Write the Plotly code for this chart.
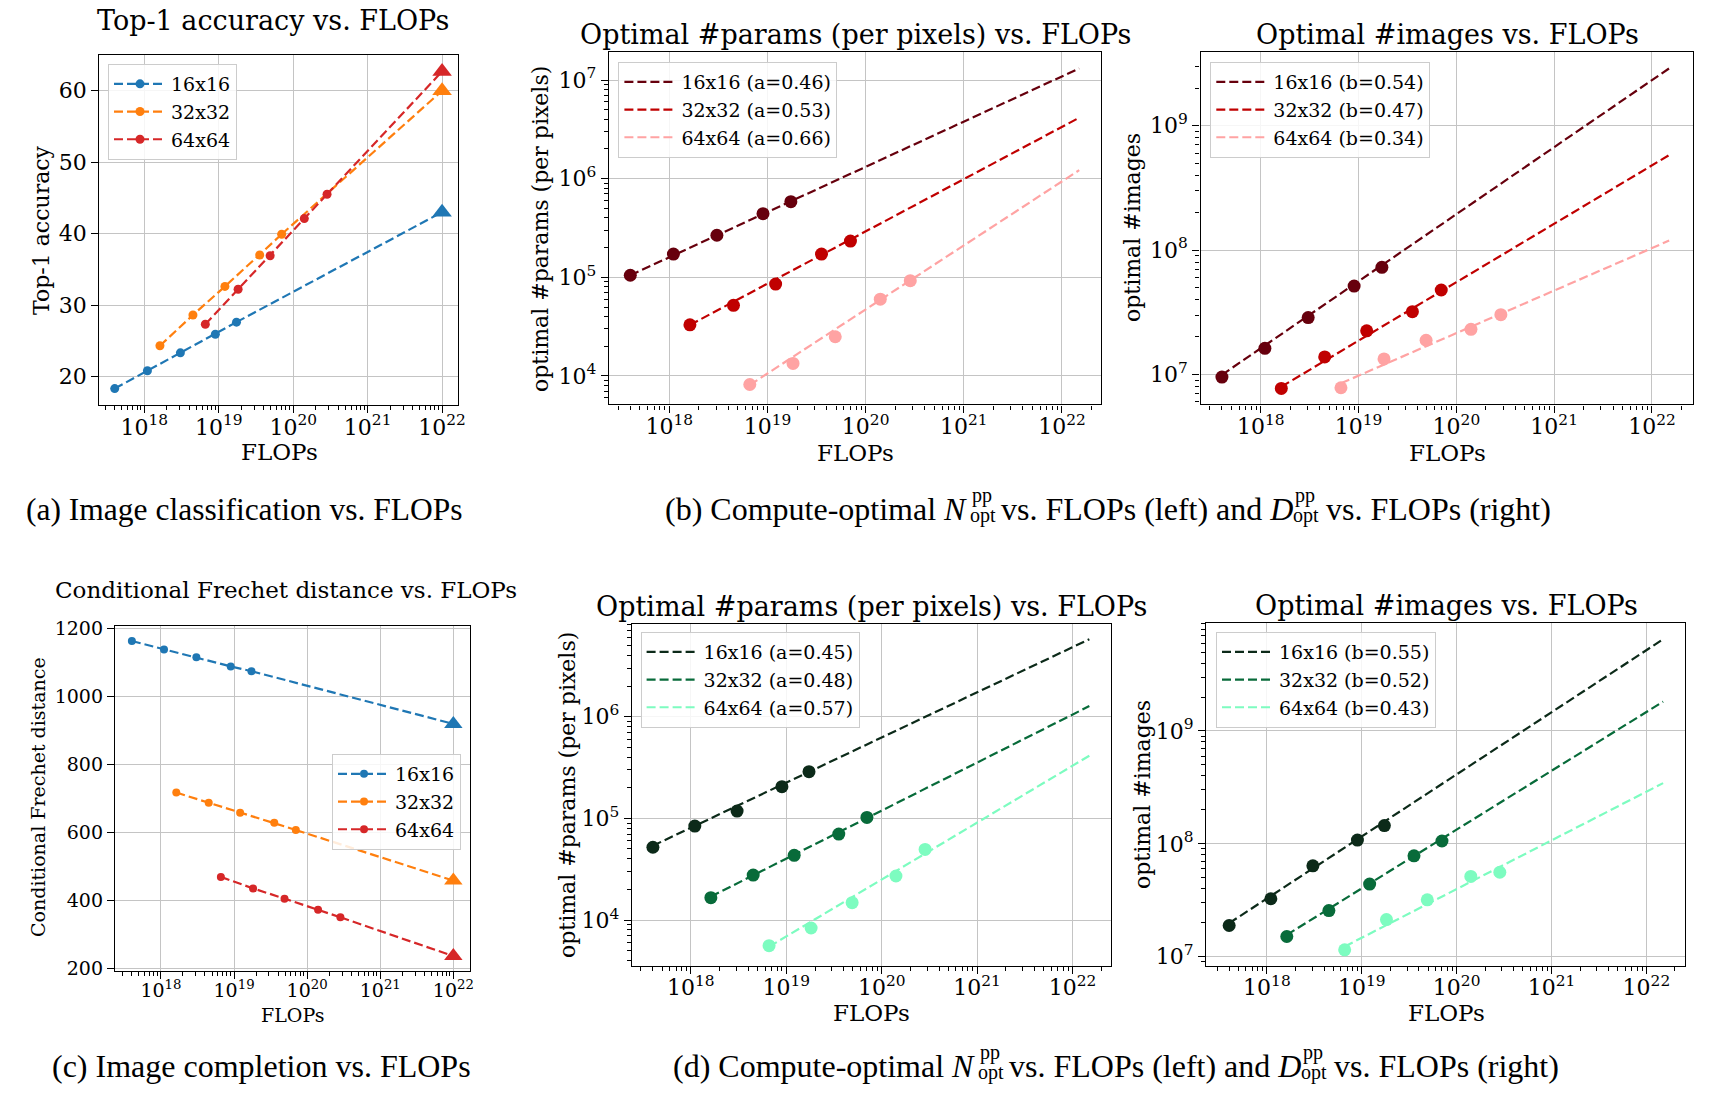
import plotly.graph_objects as go

W, H = 1730, 1106

# ---------------- data ----------------
resolutions = ["16x16", "32x32", "64x64"]
flops_16 = [4.0e17, 1.1e18, 3.05e18, 9.0e18, 1.73e19]
flops_32 = [1.62e18, 4.5e18, 1.21e19, 3.55e19, 7.0e19]
flops_64 = [6.6e18, 1.82e19, 4.9e19, 1.41e20, 2.85e20]
target_flops = 1e22          # triangles (extrapolated targets)
fit_end_flops = 1.5e22       # end of the fitted power-law lines

# (a) Top-1 accuracy
top1_16 = [18.3, 20.8, 23.3, 25.9, 27.6]
top1_32 = [24.3, 28.6, 32.6, 37.0, 39.9]
top1_64 = [27.3, 32.2, 36.9, 42.1, 45.5]
top1_target = [43.0, 60.0, 62.7]

# (b) classification: optimal params / images
cls_params_16 = [1.05e5, 1.72e5, 2.67e5, 4.42e5, 5.85e5]
cls_params_32 = [3.3e4, 5.2e4, 8.55e4, 1.72e5, 2.33e5]
cls_params_64 = [8.2e3, 1.34e4, 2.5e4, 6.0e4, 9.25e4]
cls_params_fit_16 = [1.05e5, 1.31e7]
cls_params_fit_32 = [3.29e4, 4.15e6]
cls_params_fit_64 = [8.1e3, 1.22e6]
cls_params_exp = ["0.46", "0.53", "0.66"]

cls_images_16 = [9.5e6, 1.62e7, 2.86e7, 5.13e7, 7.26e7]
cls_images_32 = [7.7e6, 1.38e7, 2.24e7, 3.19e7, 4.77e7]
cls_images_64 = [7.8e6, 1.33e7, 1.88e7, 2.3e7, 3.02e7]
cls_images_fit_16 = [9.9e6, 2.89e9]
cls_images_fit_32 = [7.94e6, 5.8e8]
cls_images_fit_64 = [8.47e6, 1.19e8]
cls_images_exp = ["0.54", "0.47", "0.34"]

# (c) Conditional Frechet distance
fd_16 = [1163, 1138, 1115, 1088, 1074]
fd_32 = [717, 687, 658, 628, 607]
fd_64 = [469, 435, 405, 372, 350]
fd_target = [919, 458, 236]

# (d) completion: optimal params / images
cmp_params_16 = [5.2e4, 8.4e4, 1.18e5, 2.05e5, 2.88e5]
cmp_params_32 = [1.66e4, 2.77e4, 4.33e4, 7.0e4, 1.02e5]
cmp_params_64 = [5.6e3, 8.35e3, 1.48e4, 2.71e4, 4.95e4]
cmp_params_fit_16 = [5.38e4, 5.77e6]
cmp_params_fit_32 = [1.7e4, 1.27e6]
cmp_params_fit_64 = [5.47e3, 4.13e5]
cmp_params_exp = ["0.45", "0.48", "0.57"]

cmp_images_16 = [1.89e7, 3.26e7, 6.38e7, 1.08e8, 1.45e8]
cmp_images_32 = [1.51e7, 2.56e7, 4.4e7, 7.83e7, 1.06e8]
cmp_images_64 = [1.15e7, 2.13e7, 3.19e7, 5.14e7, 5.6e7]
cmp_images_fit_16 = [1.98e7, 6.5e9]
cmp_images_fit_32 = [1.56e7, 1.82e9]
cmp_images_fit_64 = [1.23e7, 3.45e8]
cmp_images_exp = ["0.55", "0.52", "0.43"]

x_tick_exps = [18, 19, 20, 21, 22]

# ---------------- styling ----------------
FONT = "DejaVu Serif"
CAPFONT = "Liberation Serif"
TAB = ["#1f77b4", "#ff7f0e", "#d62728"]
REDS = ["#67000d", "#c00000", "#ffa3a3"]
GREENS = ["#0c2a19", "#086b3a", "#7dfcc0"]
GRID = "#c4c4c4"
DASH = "9px,4px"
LW = 2.2

flops = [flops_16, flops_32, flops_64]


def px(x):
    return x / W


def py(y):
    return 1 - y / H


def log_ticks(lo, hi):
    return [10.0 ** e for e in range(lo, hi + 1)], ["10<sup>%d</sup>" % e for e in range(lo, hi + 1)]


def minor_vals(lo, hi):
    return [m * 10.0 ** e for e in range(lo, hi + 1) for m in range(2, 10)]


fig = go.Figure()

panels = {
    # key: (x0, x1, y0, y1, xrange, yrange, ylog, tickfont)
    1: (99.3, 457.7, 55, 405, [17.395, 22.21], [16.0, 65.0], False, 22),
    2: (609, 1101.2, 51.7, 404.3, [17.385, 22.40], [3.713, 7.287], True, 22),
    3: (1200.5, 1693, 51.7, 404.3, [17.383, 22.42], [6.759, 9.595], True, 22),
    4: (115, 470, 626, 970.7, [17.371, 22.228], [193, 1207], False, 19),
    5: (631.9, 1110.7, 623.7, 965.7, [17.382, 22.40], [3.551, 6.914], True, 22),
    6: (1206.1, 1685.3, 623, 965.7, [17.359, 22.41], [6.92, 9.957], True, 22),
}
y_tick_sets = {
    1: ([20, 30, 40, 50, 60], [str(v) for v in [20, 30, 40, 50, 60]]),
    2: log_ticks(4, 7),
    3: log_ticks(7, 9),
    4: ([200, 400, 600, 800, 1000, 1200], [str(v) for v in [200, 400, 600, 800, 1000, 1200]]),
    5: log_ticks(4, 6),
    6: log_ticks(7, 9),
}
y_minor = {2: minor_vals(3, 7), 3: minor_vals(6, 9), 5: minor_vals(3, 6), 6: minor_vals(6, 9)}

xt_vals, xt_text = log_ticks(x_tick_exps[0], x_tick_exps[-1])
layout_axes = {}
for k, (x0, x1, y0, y1, xr, yr, ylog, tfs) in panels.items():
    sx = "" if k == 1 else str(k)
    common = dict(showline=True, linecolor="black", linewidth=1.4, mirror=True,
                  showgrid=True, gridcolor=GRID, gridwidth=1.3, zeroline=False,
                  ticks="outside", ticklen=7, tickwidth=1.3, tickcolor="black",
                  tickfont=dict(family=FONT, size=tfs, color="black"), automargin=False)
    layout_axes["xaxis" + sx] = dict(
        common, domain=[px(x0), px(x1)], anchor="y" + sx, type="log", range=xr,
        tickmode="array", tickvals=xt_vals, ticktext=xt_text, ticklabelstandoff=-5,
        minor=dict(tickmode="array", tickvals=minor_vals(17, 22), ticks="outside",
                   ticklen=4, tickwidth=1, tickcolor="black", showgrid=False))
    yv, yt = y_tick_sets[k]
    ya = dict(common, domain=[py(y1), py(y0)], anchor="x" + sx, range=yr,
              tickmode="array", tickvals=yv, ticktext=yt)
    if ylog:
        ya["type"] = "log"
        ya["minor"] = dict(tickmode="array", tickvals=y_minor[k], ticks="outside",
                           ticklen=4, tickwidth=1, tickcolor="black", showgrid=False)
    layout_axes["yaxis" + sx] = ya


def axref(k):
    return ("x", "y") if k == 1 else ("x%d" % k, "y%d" % k)


# ---- (a) and (c): accuracy / FD with triangles ----
for k, series, targets, leg, msz, tsz in [
    (1, [top1_16, top1_32, top1_64], top1_target, "legend", 9, 17),
    (4, [fd_16, fd_32, fd_64], fd_target, "legend4", 8, 16),
]:
    xa, ya = axref(k)
    for i in range(3):
        fig.add_trace(go.Scatter(
            x=flops[i], y=series[i], mode="lines+markers", name=resolutions[i],
            line=dict(color=TAB[i], width=LW, dash=DASH),
            marker=dict(color=TAB[i], size=msz), xaxis=xa, yaxis=ya, legend=leg))
        fig.add_trace(go.Scatter(
            x=[flops[i][-1], target_flops], y=[series[i][-1], targets[i]], mode="lines",
            line=dict(color=TAB[i], width=LW, dash=DASH), showlegend=False,
            xaxis=xa, yaxis=ya))
        fig.add_trace(go.Scatter(
            x=[target_flops], y=[targets[i]], mode="markers",
            marker=dict(color=TAB[i], size=tsz, symbol="triangle-up"), showlegend=False,
            xaxis=xa, yaxis=ya))

# ---- (b) and (d): power-law fits ----
fit_panels = [
    (2, [cls_params_16, cls_params_32, cls_params_64],
     [cls_params_fit_16, cls_params_fit_32, cls_params_fit_64], cls_params_exp, "a", REDS, "legend2"),
    (3, [cls_images_16, cls_images_32, cls_images_64],
     [cls_images_fit_16, cls_images_fit_32, cls_images_fit_64], cls_images_exp, "b", REDS, "legend3"),
    (5, [cmp_params_16, cmp_params_32, cmp_params_64],
     [cmp_params_fit_16, cmp_params_fit_32, cmp_params_fit_64], cmp_params_exp, "a", GREENS, "legend5"),
    (6, [cmp_images_16, cmp_images_32, cmp_images_64],
     [cmp_images_fit_16, cmp_images_fit_32, cmp_images_fit_64], cmp_images_exp, "b", GREENS, "legend6"),
]
for k, series, fits, exps, letter, cols, leg in fit_panels:
    xa, ya = axref(k)
    for i in range(3):
        fig.add_trace(go.Scatter(
            x=[flops[i][0], fit_end_flops], y=fits[i], mode="lines",
            name="%s (%s=%s)" % (resolutions[i], letter, exps[i]),
            line=dict(color=cols[i], width=LW, dash=DASH), xaxis=xa, yaxis=ya, legend=leg))
    for i in range(3):
        fig.add_trace(go.Scatter(
            x=flops[i], y=series[i], mode="markers", showlegend=False,
            marker=dict(color=cols[i], size=13), xaxis=xa, yaxis=ya))

# ---- legends ----
leg_boxes = {
    "legend": (108, 64),
    "legend2": (618.4, 62),
    "legend3": (1210.3, 62),
    "legend4": (332, 754),
    "legend5": (640.6, 632),
    "legend6": (1216, 632),
}
legends = {}
for name, (lx, ly) in leg_boxes.items():
    legends[name] = dict(x=px(lx), y=py(ly), xanchor="left", yanchor="top",
                         bgcolor="rgba(255,255,255,0.85)", bordercolor="#cccccc",
                         borderwidth=1, font=dict(family=FONT, size=19, color="black"),
                         itemwidth=52, tracegroupgap=0)

# ---- text: titles, axis labels, captions ----
ann = []


def txt(x, y, s, size, family=FONT, angle=0, xanchor="center"):
    ann.append(dict(x=px(x), y=py(y), xref="paper", yref="paper", text=s, showarrow=False,
                    textangle=angle, xanchor=xanchor, yanchor="middle",
                    font=dict(family=family, size=size, color="black")))


# titles
txt(272.5, 21, "Top-1 accuracy vs. FLOPs", 27)
txt(855, 34, "Optimal #params (per pixels) vs. FLOPs", 27)
txt(1447, 34, "Optimal #images vs. FLOPs", 27)
txt(286, 590, "Conditional Frechet distance vs. FLOPs", 23)
txt(871, 606, "Optimal #params (per pixels) vs. FLOPs", 27)
txt(1446, 605, "Optimal #images vs. FLOPs", 27)

# axis labels
txt(279, 452, "FLOPs", 23)
txt(855, 453, "FLOPs", 23)
txt(1447, 453, "FLOPs", 23)
txt(292, 1015, "FLOPs", 19)
txt(871, 1013, "FLOPs", 23)
txt(1446, 1013, "FLOPs", 23)
txt(42, 230, "Top-1 accuracy", 22, angle=-90)
txt(541, 229, "optimal #params (per pixels)", 22, angle=-90)
txt(1132, 228, "optimal #images", 22, angle=-90)
txt(38, 797, "Conditional Frechet distance", 19, angle=-90)
txt(567, 795, "optimal #params (per pixels)", 22, angle=-90)
txt(1142, 795, "optimal #images", 22, angle=-90)

# captions
CS = 32
SS = 20
txt(24, 509, "(a) Image classification vs. FLOPs", 31.5, CAPFONT, xanchor="left")
txt(50, 1066, "(c) Image completion vs. FLOPs", CS, CAPFONT, xanchor="left")
for dx, dy, lab in [(0, 0, "(b)"), (8, 557, "(d)")]:
    yb = 509 + dy
    txt(969 + dx, yb, lab + " Compute-optimal <i>N</i>", CS, CAPFONT, xanchor="right")
    txt(970 + dx, yb - 14, "pp", SS, CAPFONT, xanchor="left")
    txt(968 + dx, yb + 6, "opt", SS, CAPFONT, xanchor="left")
    txt(999 + dx, yb, "vs. FLOPs (left) and <i>D</i>", CS, CAPFONT, xanchor="left")
    txt(1293 + dx, yb - 14, "pp", SS, CAPFONT, xanchor="left")
    txt(1291 + dx, yb + 6, "opt", SS, CAPFONT, xanchor="left")
    txt(1324 + dx, yb, "vs. FLOPs (right)", CS, CAPFONT, xanchor="left")

fig.update_layout(
    width=W, height=H, margin=dict(l=0, r=0, t=0, b=0, autoexpand=False),
    paper_bgcolor="white", plot_bgcolor="white",
    font=dict(family=FONT, color="black"),
    annotations=ann, **legends, **layout_axes,
)

fig.write_html("out.html", config={"displayModeBar": False},
               post_script="document.body.style.margin='0px';")
